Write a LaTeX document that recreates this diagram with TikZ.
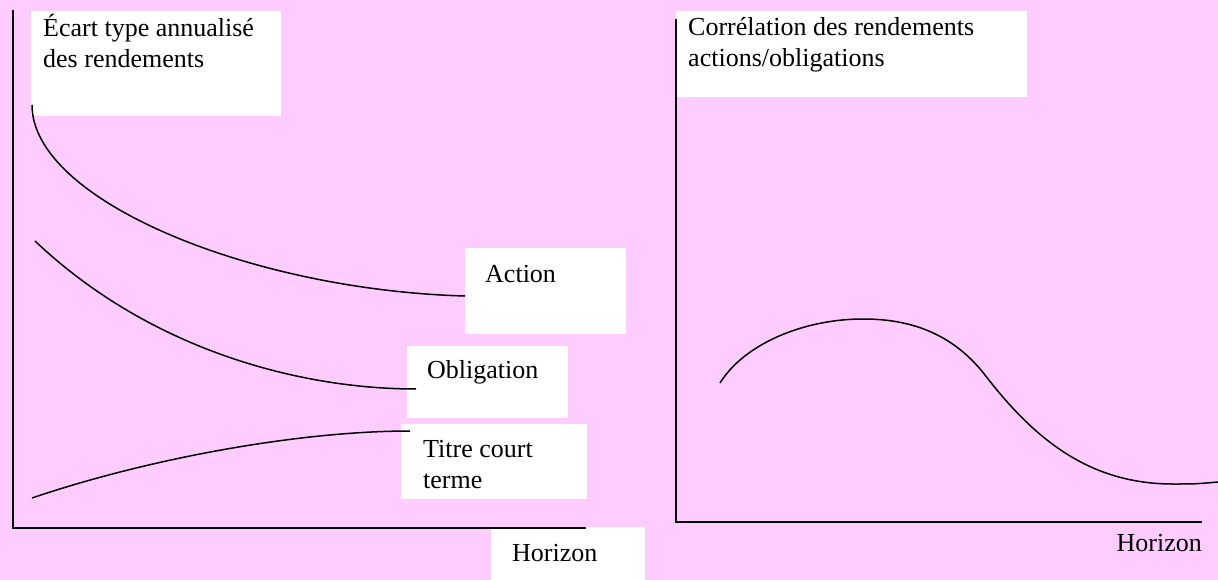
\documentclass[tikz,border=0pt]{standalone}
\usepackage{fontspec}
\setmainfont{Liberation Serif}
\usetikzlibrary{positioning,calc}
\definecolor{rose}{RGB}{255,204,255}

\begin{document}
\begin{tikzpicture}[x=1pt,y=-1pt,
    box/.style={fill=white, inner sep=0pt, anchor=north west},
    lbl/.style={font=\fontsize{26}{31}\selectfont, inner sep=0pt, align=left, anchor=base west},
    axe/.style={line width=2pt},
    courbe/.style={line width=1.5pt}]
  \fill[rose] (0,0) rectangle (1218,580);
  \useasboundingbox (0,0) rectangle (1218,580);

  \node[box, minimum width=250pt, minimum height=105pt] (ecartbox) at (31,11) {};
  \node[box, minimum width=161pt, minimum height=86pt] (actionbox) at (465,248) {};
  \node[box, minimum width=161pt, minimum height=72pt] (obligbox) at (407,346) {};
  \node[box, minimum width=186pt, minimum height=75pt] (titrebox) at (401,424) {};
  \node[box, minimum width=154pt, minimum height=53pt] (horizonbox) at (491,527) {};
  \node[box, minimum width=351pt, minimum height=86pt] (correlbox) at (676,11) {};

  \node[lbl] (ecart) at ($(ecartbox.north west)+(12,57)$) {Écart type annualisé\\des rendements};
  \node[lbl] (action) at ($(actionbox.north west)+(20,34)$) {Action};
  \node[lbl] (oblig) at ($(obligbox.north west)+(20,32)$) {Obligation};
  \node[lbl] (titre) at ($(titrebox.north west)+(22,64)$) {Titre court\\terme};
  \node[lbl] (horizon1) at ($(horizonbox.north west)+(21,34)$) {Horizon};
  \node[lbl] (correl) at ($(correlbox.north west)+(12,56)$) {Corrélation des rendements\\actions/obligations};

  \coordinate (o1) at (13,528);
  \coordinate (o2) at (676,522);
  \draw[axe] (13,10) -- (o1) -- (586,528);
  \draw[axe] (676,19) -- (o2) -- (1202,522);
  \node[lbl, anchor=base east] (horizon2) at (1202,551) {Horizon};

  \draw[courbe] (32,105) .. controls (32,200) and (250,290) .. (465,296);
  \draw[courbe] (35,241) .. controls (150,350) and (300,389) .. (416,389);
  \draw[courbe] (32,498) .. controls (150,458) and (300,431) .. (410,431);
  \draw[courbe] (720,383) .. controls (745,343) and (805,319) .. (863,319)
    .. controls (905,319) and (950,330) .. (985,375)
    .. controls (1035,440) and (1090,484) .. (1173,484)
    .. controls (1195,484) .. (1218,482);
\end{tikzpicture}
\end{document}
